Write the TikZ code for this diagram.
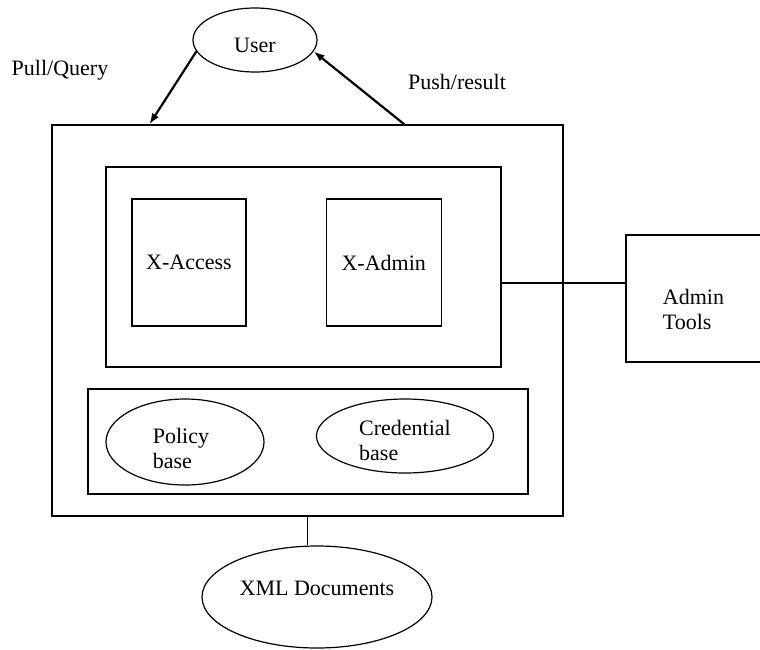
\documentclass[tikz,border=0pt]{standalone}
\usepackage{fontspec}
\setmainfont{Liberation Serif}
\usetikzlibrary{arrows.meta,positioning,shapes.geometric}

\begin{document}
\begin{tikzpicture}[x=1pt,y=-1pt,font=\fontsize{22}{25}\selectfont,
  rbox/.style={draw,line width=1.2pt,inner sep=0pt},
  oval/.style={draw,ellipse,line width=1.2pt,inner sep=0pt},
  arr/.style={-{Latex[length=11pt,width=8pt]},line width=2.2pt}]
\useasboundingbox (0,0) rectangle (760,649);
\node[oval,minimum width=124pt,minimum height=64pt,text height=25pt] (user) at (255,40) {User};
\node[rbox,minimum width=511pt,minimum height=391pt] (outer) at (307.5,320.5) {};
\node[rbox,minimum width=395pt,minimum height=200pt] (inner) at (303.5,267) {};
\node[rbox,minimum width=114pt,minimum height=127pt] (xacc) at (189,262.5) {X-Access};
\node[rbox,minimum width=115pt,minimum height=127pt,right=79pt of xacc] (xadm) {X-Admin};
\node[rbox,minimum width=440pt,minimum height=105pt] (lower) at (308,441.5) {};
\node[oval,minimum width=158pt,minimum height=86pt,align=left] (policy) at (185,442) {\rule{0pt}{29pt}Policy\hspace*{8pt}\\base};
\node[oval,minimum width=177pt,minimum height=74pt,align=left] (cred) at (405,436) {\rule{0pt}{25pt}Credential\\base};
\node[rbox,minimum width=135pt,minimum height=127pt,align=left] (admin) at (693.5,298.5) {\rule{0pt}{37pt}Admin\\Tools};
\node[oval,minimum width=230pt,minimum height=102pt,text depth=18pt] (xml) at (317,597) {XML Documents};
\node (pq) at (60,70) {Pull/Query};
\node (pr) at (457,82) {Push/result};
\coordinate (pqend) at ([xshift=98pt]outer.north west);
\coordinate (prstart) at ([xshift=353pt]outer.north west);
\draw[arr] (user.191) -- (pqend);
\draw[arr] (prstart) -- (user.349);
\draw[line width=1.2pt] ([yshift=-16pt]inner.east) -- ([yshift=-16pt]inner.east -| admin.west);
\draw[line width=1.2pt] (outer.south) -- (outer.south |- xml.north);
\end{tikzpicture}
\end{document}
